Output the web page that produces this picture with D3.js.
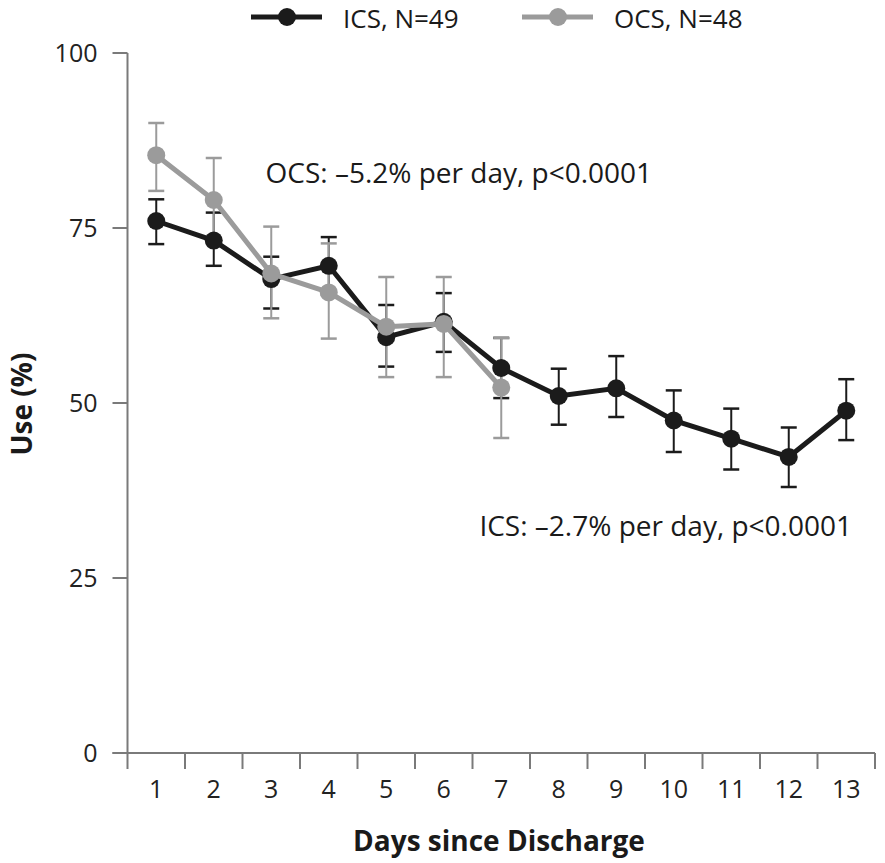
<!DOCTYPE html>
<html>
<head>
<meta charset="utf-8">
<script src="https://d3js.org/d3.v7.min.js"></script>
<style>
  body { margin: 0; background: #fff; }
  .tickl { font-family: "Open Sans", sans-serif; font-size: 25px; fill: #222; }
  .atitle { font-family: "Open Sans", sans-serif; font-size: 28px; font-weight: bold; fill: #1a1a1a; }
  .note { font-family: "Open Sans", sans-serif; font-size: 28px; fill: #1a1a1a; }
  .leg { font-family: "Liberation Sans Narrow", "Open Sans", sans-serif; font-size: 26px; fill: #1a1a1a; }
</style>
</head>
<body>
<svg id="chart" width="885" height="863"></svg>
<script>
// days since discharge
var days = [1, 2, 3, 4, 5, 6, 7, 8, 9, 10, 11, 12, 13];
var yTicks = [0, 25, 50, 75, 100];

// ICS, mean use (%) with error bar ends
var icsMean = [76.0, 73.2, 67.7, 69.6, 59.4, 61.6, 55.0, 51.0, 52.1, 47.5, 44.9, 42.3, 48.9];
var icsHigh = [79.1, 77.2, 70.9, 73.7, 64.0, 65.7, 59.3, 54.9, 56.7, 51.8, 49.2, 46.5, 53.4];
var icsLow  = [72.7, 69.6, 63.5, 65.5, 55.2, 57.3, 50.7, 46.9, 48.0, 43.0, 40.5, 38.0, 44.7];

// OCS, only days 1-7
var ocsMean = [85.4, 79.0, 68.5, 65.8, 60.9, 61.3, 52.2];
var ocsHigh = [90.0, 85.0, 75.2, 72.8, 68.0, 68.0, 59.3];
var ocsLow  = [80.3, 73.0, 62.1, 59.2, 53.7, 53.7, 45.0];

var series = [
  {name: "ICS, N=49", color: "#1b1b1b", mean: icsMean, high: icsHigh, low: icsLow},
  {name: "OCS, N=48", color: "#9b9b9b", mean: ocsMean, high: ocsHigh, low: ocsLow}
];

var notes = [
  {text: "OCS: \u20135.2% per day, p<0.0001", day: 2.9, value: 82.9},
  {text: "ICS: \u20132.7% per day, p<0.0001", day: 6.62, value: 32.4}
];

var svg = d3.select("#chart"),
    margin = {top: 53, right: 10, bottom: 110, left: 127.5},
    width = 875 - margin.left,
    height = 753 - margin.top;

var g = svg.append("g")
    .attr("transform", "translate(" + margin.left + "," + margin.top + ")");

var x = d3.scaleBand().domain(days).range([0, width]);
var y = d3.scaleLinear().domain([0, 100]).range([height, 0]);
var cx = function(d) { return x(d) + x.bandwidth() / 2; };

// y axis
g.append("line")
    .attr("x1", 0).attr("x2", 0)
    .attr("y1", 0).attr("y2", height + 16)
    .attr("stroke", "#7a7a7a").attr("stroke-width", 2);
g.selectAll(".ytick")
  .data(yTicks)
  .enter().append("line")
    .attr("x1", -15).attr("x2", 0)
    .attr("y1", function(d) { return y(d); })
    .attr("y2", function(d) { return y(d); })
    .attr("stroke", "#7a7a7a").attr("stroke-width", 2);
g.selectAll(".ylab")
  .data(yTicks)
  .enter().append("text")
    .attr("class", "tickl")
    .attr("x", -30)
    .attr("y", function(d) { return y(d); })
    .attr("dy", "0.35em")
    .attr("text-anchor", "end")
    .text(function(d) { return d; });

// x axis
g.append("line")
    .attr("x1", -15).attr("x2", width)
    .attr("y1", height).attr("y2", height)
    .attr("stroke", "#7a7a7a").attr("stroke-width", 2);
g.selectAll(".xtick")
  .data(days)
  .enter().append("line")
    .attr("x1", function(d) { return x(d) + x.bandwidth(); })
    .attr("x2", function(d) { return x(d) + x.bandwidth(); })
    .attr("y1", height).attr("y2", height + 16)
    .attr("stroke", "#7a7a7a").attr("stroke-width", 2);
g.selectAll(".xlab")
  .data(days)
  .enter().append("text")
    .attr("class", "tickl")
    .attr("x", cx)
    .attr("y", height + 36)
    .attr("dy", "0.35em")
    .attr("text-anchor", "middle")
    .text(function(d) { return d; });

g.append("text")
    .attr("class", "atitle")
    .attr("x", 499 - margin.left)
    .attr("y", height + 88)
    .attr("dy", "0.35em")
    .attr("text-anchor", "middle")
    .text("Days since Discharge");

svg.append("text")
    .attr("class", "atitle")
    .attr("transform", "translate(22,404) rotate(-90)")
    .attr("dy", "0.35em")
    .attr("text-anchor", "middle")
    .text("Use (%)");

// error bars for both groups
series.forEach(function(s) {
  var eb = g.append("g");
  s.mean.forEach(function(m, i) {
    var xc = cx(days[i]);
    eb.append("line")
        .attr("x1", xc).attr("x2", xc)
        .attr("y1", y(s.high[i])).attr("y2", y(s.low[i]))
        .attr("stroke", s.color).attr("stroke-width", 2);
    [s.high[i], s.low[i]].forEach(function(v) {
      eb.append("line")
          .attr("x1", xc - 8).attr("x2", xc + 8)
          .attr("y1", y(v)).attr("y2", y(v))
          .attr("stroke", s.color).attr("stroke-width", 2.5);
    });
  });
});

// lines and dots
var line = d3.line()
    .x(function(d, i) { return cx(days[i]); })
    .y(function(d) { return y(d); });

series.forEach(function(s) {
  g.append("path")
      .datum(s.mean)
      .attr("fill", "none")
      .attr("stroke", s.color)
      .attr("stroke-width", 5)
      .attr("d", line);
  g.selectAll(null)
    .data(s.mean)
    .enter().append("circle")
      .attr("cx", function(d, i) { return cx(days[i]); })
      .attr("cy", function(d) { return y(d); })
      .attr("r", 9)
      .attr("fill", s.color);
});

// annotations
g.selectAll(".note")
  .data(notes)
  .enter().append("text")
    .attr("class", "note")
    .attr("x", function(d) { return cx(1) + (d.day - 1) * x.bandwidth(); })
    .attr("y", function(d) { return y(d.value); })
    .attr("dy", "0.35em")
    .text(function(d) { return d.text; });

// legend
var legend = svg.append("g").attr("transform", "translate(0,17)");
var legX = [251, 522];
series.forEach(function(s, i) {
  var lg = legend.append("g").attr("transform", "translate(" + legX[i] + ",0)");
  lg.append("line")
      .attr("x1", 0).attr("x2", 71)
      .attr("stroke", s.color).attr("stroke-width", 5);
  lg.append("circle")
      .attr("cx", 36).attr("r", 9).attr("fill", s.color);
  lg.append("text")
      .attr("class", "leg")
      .attr("x", 92)
      .attr("y", 11)
      .text(s.name);
});
</script>
</body>
</html>
